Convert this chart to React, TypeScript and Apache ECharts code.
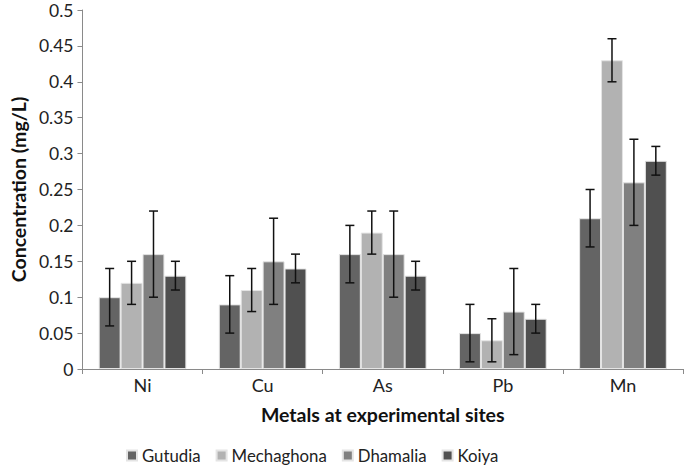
import React, { useEffect, useRef } from "react";
import * as echarts from "echarts";

const categories = ["Ni", "Cu", "As", "Pb", "Mn"];
const seriesNames = ["Gutudia", "Mechaghona", "Dhamalia", "Koiya"];
const colors = ["#646464", "#b2b2b2", "#808080", "#505050"];

const gutudia = [0.10, 0.09, 0.16, 0.05, 0.21];
const mechaghona = [0.12, 0.11, 0.19, 0.04, 0.43];
const dhamalia = [0.16, 0.15, 0.16, 0.08, 0.26];
const koiya = [0.13, 0.14, 0.13, 0.07, 0.29];

const gutudiaErr = [[0.06, 0.14], [0.05, 0.13], [0.12, 0.20], [0.01, 0.09], [0.17, 0.25]];
const mechaghonaErr = [[0.09, 0.15], [0.08, 0.14], [0.16, 0.22], [0.01, 0.07], [0.40, 0.46]];
const dhamaliaErr = [[0.10, 0.22], [0.09, 0.21], [0.10, 0.22], [0.02, 0.14], [0.20, 0.32]];
const koiyaErr = [[0.11, 0.15], [0.12, 0.16], [0.11, 0.15], [0.05, 0.09], [0.27, 0.31]];

const values = [gutudia, mechaghona, dhamalia, koiya];
const errors = [gutudiaErr, mechaghonaErr, dhamaliaErr, koiyaErr];

const GAP = 0.27;
const FONT = "Lato, 'Open Sans', sans-serif";

export default function App() {
  const ref = useRef<HTMLDivElement>(null);
  useEffect(() => {
    const chart = echarts.init(ref.current!, null, { renderer: "svg" });
    const n = seriesNames.length;
    const barSeries = seriesNames.map((name, i) => ({
      name,
      type: "bar",
      data: values[i],
      barGap: "0%",
      barCategoryGap: GAP * 100 + "%",
      itemStyle: { color: colors[i], borderColor: "#e4e4e4", borderWidth: 1 },
    }));
    const errSeries = seriesNames.map((name, i) => ({
      name: name + "_err",
      type: "custom",
      data: errors[i].map((e, c) => [c, e[0], e[1]]),
      z: 10,
      renderItem: (params: any, api: any) => {
        const c = api.value(0);
        const lo = api.coord([c, api.value(1)]);
        const hi = api.coord([c, api.value(2)]);
        const band = api.size([1, 0])[0];
        const total = band * (1 - GAP);
        const w = total / n;
        const x = lo[0] - total / 2 + w * (i + 0.5);
        const cap = 4.5;
        const style = { stroke: "#111", lineWidth: 1.5 };
        return {
          type: "group",
          children: [
            { type: "line", shape: { x1: x, y1: lo[1], x2: x, y2: hi[1] }, style },
            { type: "line", shape: { x1: x - cap, y1: lo[1], x2: x + cap, y2: lo[1] }, style },
            { type: "line", shape: { x1: x - cap, y1: hi[1], x2: x + cap, y2: hi[1] }, style },
          ],
        };
      },
    }));
    chart.setOption({
      animation: false,
      textStyle: { fontFamily: FONT },
      grid: { left: 77, right: 2, top: 10, bottom: 97 },
      legend: {
        data: seriesNames,
        left: 121,
        top: 442,
        itemWidth: 10,
        itemHeight: 10,
        itemGap: 15,
        icon: "rect",
        textStyle: { fontSize: 16.8, color: "#222", fontFamily: FONT },
      },
      xAxis: {
        type: "category",
        data: categories,
        name: "Metals at experimental sites",
        nameLocation: "middle",
        nameGap: 35,
        nameTextStyle: { fontSize: 19.5, fontWeight: "bold", color: "#111", fontFamily: FONT },
        axisLine: { lineStyle: { color: "#8a8a8a" } },
        axisTick: { show: true, length: 5, lineStyle: { color: "#8a8a8a" } },
        axisLabel: { fontSize: 18, color: "#222", margin: 7, fontFamily: FONT },
      },
      yAxis: {
        type: "value",
        min: 0,
        max: 0.5,
        interval: 0.05,
        name: "Concentration (mg/L)",
        nameLocation: "middle",
        nameGap: 50,
        nameTextStyle: { fontSize: 19.5, fontWeight: "bold", color: "#111", fontFamily: FONT },
        splitLine: { show: false },
        axisLine: { show: true, lineStyle: { color: "#8a8a8a" } },
        axisTick: { show: true, length: 5, lineStyle: { color: "#8a8a8a" } },
        axisLabel: {
          fontSize: 17.5,
          color: "#222",
          margin: 9,
          fontFamily: FONT,
          formatter: (v: number) => String(parseFloat(v.toFixed(2))),
        },
      },
      series: [...barSeries, ...errSeries],
    });
    return () => chart.dispose();
  }, []);
  return <div ref={ref} style={{ width: 685, height: 466, position: "absolute", left: 0, top: 0 }} />;
}
